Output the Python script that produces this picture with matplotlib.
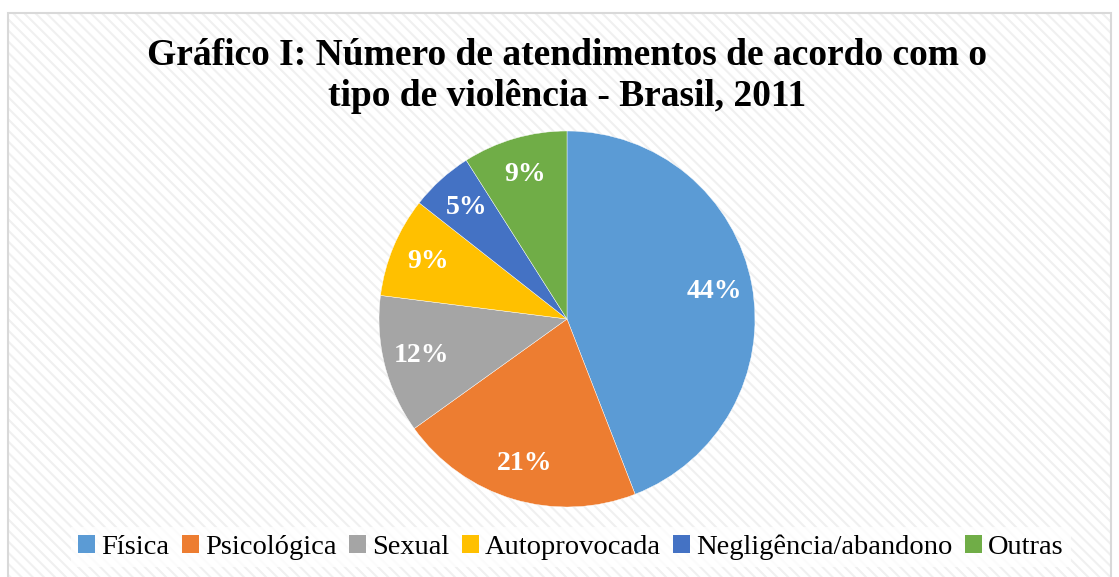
import matplotlib
matplotlib.use("Agg")
import matplotlib.pyplot as plt
from matplotlib.patches import Rectangle, Patch

categories = ["Física", "Psicológica", "Sexual", "Autoprovocada", "Negligência/abandono", "Outras"]
values = [44.1, 21.0, 11.9, 8.6, 5.4, 9.0]
colors = ["#5B9BD5", "#ED7D31", "#A5A5A5", "#FFC000", "#4472C4", "#70AD47"]
title = "Gráfico I: Número de atendimentos de acordo com o\ntipo de violência - Brasil, 2011"

plt.rcParams['font.family'] = ['Liberation Serif', 'DejaVu Serif']
plt.rcParams['hatch.linewidth'] = 1.5

W, H = 1119, 577
fig = plt.figure(figsize=(W/100, H/100), dpi=100)
fig.patch.set_facecolor("white")

bg = Rectangle((8/W, 0), (1111-8)/W, (577-13)/H, transform=fig.transFigure,
               facecolor="white", edgecolor="#f0f0f0", hatch="\\\\\\", lw=0, zorder=-5)
fig.patches.append(bg)
border = Rectangle((8/W, -0.01), (1111-8)/W, (577-13)/H + 0.01, transform=fig.transFigure,
                   facecolor="none", edgecolor="#d9d9d9", lw=1.5, zorder=-4)
fig.patches.append(border)

cx, cy, r = 567, 319, 188
ax = fig.add_axes([(cx - r)/W, (H - cy - r)/H, 2*r/W, 2*r/H])
ax.set_facecolor("none")
wedges, texts, autotexts = ax.pie(values, colors=colors, startangle=90, counterclock=False,
                                  autopct='%.0f%%', pctdistance=0.8, radius=1,
                                  wedgeprops=dict(linewidth=0.3, edgecolor="white"),
                                  textprops=dict(color="white", fontsize=20, fontweight="bold"))
ax.set_xlim(-1, 1)
ax.set_ylim(-1, 1)
ax.set_aspect("equal")
ax.axis("off")

fig.text(cx/W, 1 - 76/H, title, ha="center", va="center", fontsize=27, fontweight="bold",
         linespacing=1.22)

handles = [Patch(facecolor=c, edgecolor="none") for c in colors]
leg = fig.legend(handles, categories, loc="center", bbox_to_anchor=(571/W, 1 - 547/H), ncol=6,
                 fontsize=20.5, frameon=True, fancybox=False, handlelength=0.6, handleheight=0.6,
                 handletextpad=0.2, columnspacing=0.45, borderpad=0.25)
leg.get_frame().set_facecolor("white")
leg.get_frame().set_edgecolor("none")

fig.savefig("out.png", dpi=100)
